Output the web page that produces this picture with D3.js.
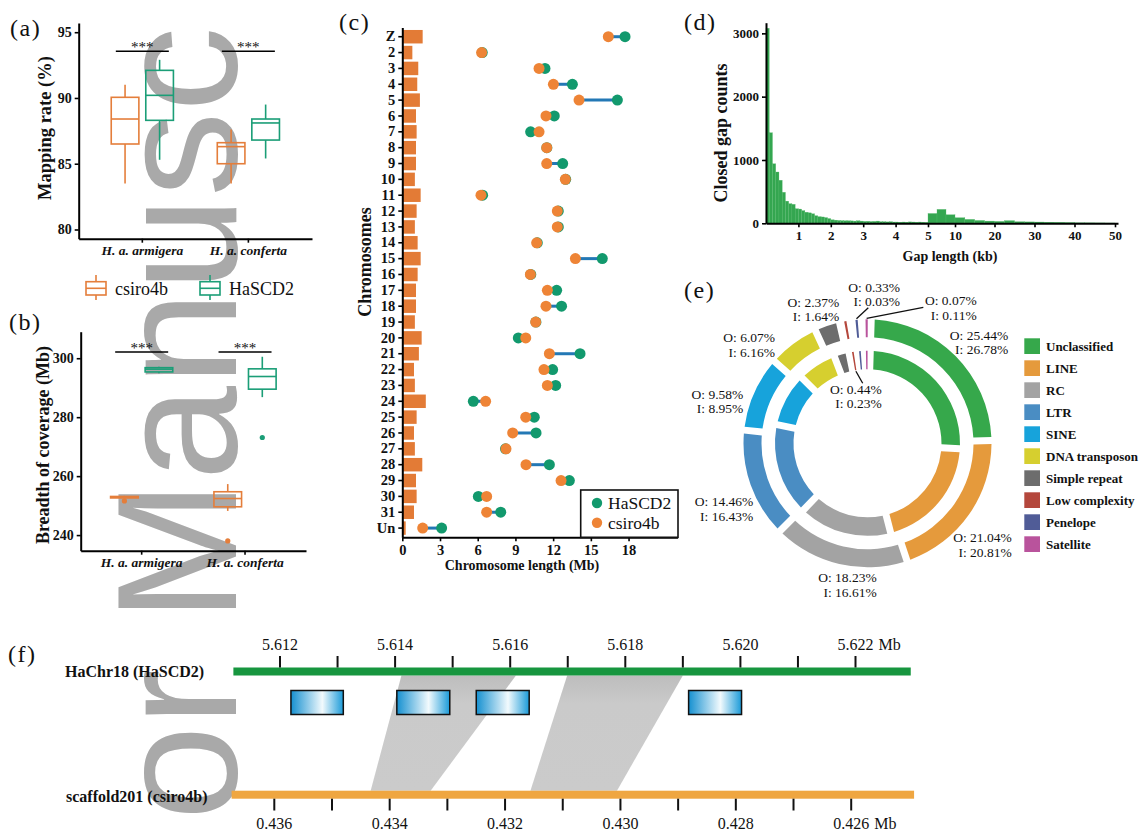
<!DOCTYPE html>
<html><head><meta charset="utf-8">
<script src="https://d3js.org/d3.v7.min.js"></script>
<style>
body{margin:0;background:#fff}
svg{display:block}
text{font-family:"Liberation Serif","Times New Roman",serif;fill:#111}
</style></head><body>
<svg id="fig" width="1139" height="832" viewBox="0 0 1139 832"></svg>
<script>
// ================= DATA =================
const groups = ["H. a. armigera", "H. a. conferta"];
const assemblies = ["csiro4b", "HaSCD2"];
// box stats per group: [lower whisker, Q1, median, Q3, upper whisker]
const mappingCsiro4b = [[83.5, 86.5, 88.4, 90.05, 91.0], [83.5, 85.0, 86.3, 86.6, 87.6]];
const mappingHaSCD2  = [[85.3, 88.3, 90.2, 92.1, 92.9], [85.4, 86.8, 88.1, 88.4, 89.5]];
const mappingTicks = [80, 85, 90, 95];
const mappingSig = 93.55;
const coverageCsiro4b = [[252.4, 252.6, 252.85, 253.1, 253.3], [248.2, 249.6, 252.4, 254.7, 257.3]];
const coverageHaSCD2  = [[294.9, 295.35, 296.3, 296.8, 297.1], [286.8, 289.5, 293.8, 296.4, 300.5]];
const coverageOutCsiro4b = [[251.6], [238.0]];
const coverageOutHaSCD2  = [[], [273.1]];
const coverageTicks = [240, 260, 280, 300];
const coverageSig = 302.1;

const chromosomes = ["Z","2","3","4","5","6","7","8","9","10","11","12","13","14","15","16","17","18","19","20","21","22","23","24","25","26","27","28","29","30","31","Un"];
const chrBarLen  = [1.62,0.8,1.27,1.19,1.4,1.09,1.14,1.09,1.09,1.0,1.46,1.14,1.0,1.22,1.46,1.22,1.09,1.09,1.0,1.54,1.32,0.93,1.0,1.87,1.14,0.93,1.0,1.59,1.09,1.14,0.93,0.27];
const csiro4bLen = [16.39,6.31,10.88,12.02,14.06,11.43,10.88,11.49,11.49,12.97,6.26,12.33,12.33,10.69,13.77,10.19,11.54,11.43,10.61,9.82,11.7,11.27,11.54,6.63,9.82,8.78,8.25,9.84,12.63,6.71,6.71,1.62];
const hascd2Len  = [17.72,6.36,11.35,13.53,17.11,12.09,10.21,11.5,12.76,13.0,6.39,12.41,12.41,10.74,15.91,10.22,12.28,12.67,10.63,9.23,14.14,11.96,12.2,5.65,10.5,10.64,8.21,11.7,13.29,6.05,7.83,3.13];
const chrTicks = [0, 3, 6, 9, 12, 15, 18];

// closed gap histogram: 0-5 kb in 0.1 kb bins, then coarser bins to 50 kb
const gapShortWidth = 0.1;
const gapShortCounts = [3080,1430,940,810,680,490,350,310,300,230,
                        225,200,175,165,150,120,105,100,90,75,
                        55,50,45,42,40,40,38,35,40,35,
                        30,32,28,30,35,25,25,22,25,20,
                        20,18,20,18,22,20,18,20,18,15];
const gapLongEdges = [5,6.667,8.333,10,12.5,15,17.5,20,22.5,25,27.5,30,32.5,35,37.5,40,42.5,45,47.5,50];
const gapLongCounts = [155,220,135,88,62,45,35,30,42,25,22,20,18,16,13,8,7,6,5];
const gapTicks = [1,2,3,4,5,10,20,30,40,50];
const gapCountTicks = [0,1000,2000,3000];

const repeatClasses = ["Unclassified","LINE","RC","LTR","SINE","DNA transposon","Simple repeat","Low complexity","Penelope","Satellite"];
const outerPct = [25.44,21.04,18.23,14.46,9.58,6.07,2.37,0.44,0.33,0.07];
const innerPct = [26.78,20.81,16.61,16.43,8.95,6.16,1.64,0.23,0.03,0.11];

const chr18Ticks = [5.612,5.613,5.614,5.615,5.616,5.617,5.618,5.619,5.620,5.621,5.622];
const chr18Labels = [5.612,5.614,5.616,5.618,5.620,5.622];
const scafTicks = [0.436,0.435,0.434,0.433,0.432,0.431,0.430,0.429,0.428,0.427,0.426];
const scafLabels = [0.436,0.434,0.432,0.430,0.428,0.426];
const chr18Extent = [5.61119, 5.62296];
const scafExtent = [0.43674, 0.42491];
const genes = [[5.61219,5.61310],[5.61403,5.61495],[5.61541,5.61633],[5.61910,5.62002]];
const syntenyTop = [[5.61411,5.61610],[5.61699,5.61900]];
const syntenyBottom = [[0.43433,0.43329],[0.43156,0.43006]];

// ================= STYLE =================
const serif = '"Liberation Serif","Times New Roman",serif';
const colAsm = {csiro4b:"#E47E3B", HaSCD2:"#1B9E77"};
const dotCol = {csiro4b:"#EE8436", HaSCD2:"#12996D"};
const repeatColors = ["#36A84B","#E59A3C","#A3A3A3","#4A8DC3","#17A3DB","#D6CF2F","#6D6D6D","#B4473C","#505C97","#B9539C"];

const svg = d3.select("#fig");
const defs = svg.append("defs");
const grad = defs.append("linearGradient").attr("id","geneGrad").attr("x1","0%").attr("x2","100%").attr("y1","0%").attr("y2","0%");
[[0,"#1590d0"],[0.6,"#f2fafd"],[1,"#1a9ad8"]].forEach(([o,c])=>grad.append("stop").attr("offset",o).attr("stop-color",c));
const bandGrad = defs.append("linearGradient").attr("id","bandGrad").attr("x1","0%").attr("x2","0%").attr("y1","0%").attr("y2","100%");
[[0,"#bdbdbd"],[0.25,"#cacaca"],[1,"#cbcbcb"]].forEach(([o,c])=>bandGrad.append("stop").attr("offset",o).attr("stop-color",c));

// watermark (beneath the chart); only the part visible in the page
const wmStyle = t=>t.style("fill","#a9a9a9").style("font-family","'Liberation Sans',Arial,sans-serif").attr("font-size",170);
svg.append("text").attr("transform","translate(236,622) rotate(-90)").call(wmStyle).text("Manusc");
svg.append("text").attr("transform","translate(236,669) rotate(-90)").attr("text-anchor","end").call(wmStyle).text("or");

function styleAxis(g, fs, italic){
  g.attr("font-family", serif);
  g.select(".domain").attr("stroke","#000").attr("stroke-width",2);
  g.selectAll(".tick line").attr("stroke","#000").attr("stroke-width",1.6);
  g.selectAll(".tick text").attr("font-weight","bold").attr("font-size",fs).attr("fill","#111")
    .attr("font-style", italic ? "italic" : "normal");
}
function panelLabel(t,x,y){
  svg.append("text").attr("x",x).attr("y",y).attr("font-size",24).attr("letter-spacing",1.5).text(t);
}
function yTitle(t,x,y,fs){
  svg.append("text").attr("transform",`translate(${x},${y}) rotate(-90)`).attr("text-anchor","middle")
    .attr("font-weight","bold").attr("font-size",fs).text(t);
}

// ================= BOX PANELS (a),(b) =================
function boxPanel(o){
  const g = svg.append("g");
  const x = d3.scaleBand().domain(groups).range([o.x0,o.x1]).paddingInner(0).paddingOuter(o.po);
  const sub = d3.scaleBand().domain(assemblies).range([-38,38]).padding(0.2);
  const y = d3.scaleLinear().domain(o.ydom).range([o.yb,o.yt]);
  g.append("g").attr("transform",`translate(0,${o.yb})`)
    .call(d3.axisBottom(x).tickSize(4).tickSizeOuter(0).tickPadding(3)).call(styleAxis,13.5,true);
  g.append("g").attr("transform",`translate(${o.x0},0)`)
    .call(d3.axisLeft(y).tickValues(o.ticks).tickSize(4).tickSizeOuter(0).tickPadding(3)).call(styleAxis,14,false);
  const stats = {csiro4b:o.csiro, HaSCD2:o.hascd};
  const outl = {csiro4b:o.outC, HaSCD2:o.outH};
  assemblies.forEach(a=>{
    groups.forEach((gr,gi)=>{
      const s = stats[a][gi];
      const cx = x(gr)+x.bandwidth()/2+sub(a)+sub.bandwidth()/2;
      const bw = sub.bandwidth();
      const c = colAsm[a];
      g.append("line").attr("x1",cx).attr("x2",cx).attr("y1",y(s[0])).attr("y2",y(s[1])).attr("stroke",c).attr("stroke-width",1.6);
      g.append("line").attr("x1",cx).attr("x2",cx).attr("y1",y(s[3])).attr("y2",y(s[4])).attr("stroke",c).attr("stroke-width",1.6);
      g.append("rect").attr("x",cx-bw/2).attr("y",y(s[3])).attr("width",bw).attr("height",Math.max(0.5,y(s[1])-y(s[3])))
        .attr("fill","none").attr("stroke",c).attr("stroke-width",1.6);
      g.append("line").attr("x1",cx-bw/2).attr("x2",cx+bw/2).attr("y1",y(s[2])).attr("y2",y(s[2])).attr("stroke",c).attr("stroke-width",1.6);
      if (outl[a]) outl[a][gi].forEach(v=>{
        g.append("circle").attr("cx",cx).attr("cy",y(v)).attr("r",2.6).attr("fill",c);
      });
    });
  });
  groups.forEach(gr=>{
    const cx = x(gr)+x.bandwidth()/2;
    g.append("line").attr("x1",cx-26.5).attr("x2",cx+26.5).attr("y1",y(o.sig)).attr("y2",y(o.sig)).attr("stroke","#000").attr("stroke-width",1.6);
    g.append("text").attr("x",cx).attr("y",y(o.sig)+0.5).attr("text-anchor","middle").attr("font-size",15).text("***");
  });
}
boxPanel({x0:78.7,x1:312,po:0.1,yb:238.7,yt:23,ydom:[79.3,95.7],ticks:mappingTicks,
  csiro:mappingCsiro4b,hascd:mappingHaSCD2,outC:null,outH:null,sig:mappingSig});
boxPanel({x0:80.7,x1:306,po:0.09,yb:550.7,yt:331.7,ydom:[234.7,309],ticks:coverageTicks,
  csiro:coverageCsiro4b,hascd:coverageHaSCD2,outC:coverageOutCsiro4b,outH:coverageOutHaSCD2,sig:coverageSig});
panelLabel("(a)",10,36);
panelLabel("(b)",9,330);
yTitle("Mapping rate (%)",51,128,18.5);
yTitle("Breadth of coverage (Mb)",49,445,18);

// legend for (a)/(b)
(function(){
  const lg = svg.append("g");
  [["csiro4b",86],["HaSCD2",200]].forEach(([a,x0])=>{
    const c = colAsm[a];
    lg.append("line").attr("x1",x0+10).attr("x2",x0+10).attr("y1",275).attr("y2",300).attr("stroke",c).attr("stroke-width",1.6);
    lg.append("rect").attr("x",x0).attr("y",281.7).attr("width",20).attr("height",13.3).attr("fill","#fff").attr("stroke",c).attr("stroke-width",1.6);
    lg.append("line").attr("x1",x0).attr("x2",x0+20).attr("y1",288.3).attr("y2",288.3).attr("stroke",c).attr("stroke-width",1.6);
    lg.append("text").attr("x",x0+29).attr("y",295).attr("font-size",18).text(a);
  });
})();

// ================= PANEL (c) =================
(function(){
  const g = svg.append("g");
  const x = d3.scaleLinear().domain([0,21.9]).range([402.3,402.3+21.9*12.57]);
  const y = d3.scaleBand().domain(chromosomes).range([27.6,537.2]).paddingInner(0.15).paddingOuter(0.15);
  g.selectAll("rect.bar").data(chromosomes).join("rect").attr("class","bar")
    .attr("x",x(0)).attr("y",d=>y(d)).attr("width",(d,i)=>x(chrBarLen[i])-x(0)).attr("height",y.bandwidth()).attr("fill","#E37B36");
  const cy = d=>y(d)+y.bandwidth()/2;
  g.selectAll("line.seg").data(chromosomes).join("line").attr("class","seg")
    .attr("x1",(d,i)=>x(csiro4bLen[i])).attr("x2",(d,i)=>x(hascd2Len[i])).attr("y1",cy).attr("y2",cy)
    .attr("stroke","#2378B5").attr("stroke-width",3);
  g.selectAll("circle.h").data(chromosomes).join("circle").attr("class","h")
    .attr("cx",(d,i)=>x(hascd2Len[i])).attr("cy",cy).attr("r",5.5).attr("fill",dotCol.HaSCD2);
  g.selectAll("circle.c").data(chromosomes).join("circle").attr("class","c")
    .attr("cx",(d,i)=>x(csiro4bLen[i])).attr("cy",cy).attr("r",5.5).attr("fill",dotCol.csiro4b);
  g.append("g").attr("transform","translate(0,537.3)")
    .call(d3.axisBottom(x).tickValues(chrTicks).tickSize(4).tickSizeOuter(0).tickPadding(3)).call(styleAxis,14.5,false);
  g.append("g").attr("transform","translate(402.3,0)")
    .call(d3.axisLeft(y).tickSize(4).tickSizeOuter(0).tickPadding(3)).call(styleAxis,14.5,false);
  svg.append("text").attr("x",522).attr("y",570).attr("text-anchor","middle").attr("font-weight","bold").attr("font-size",14).text("Chromosome length (Mb)");
  yTitle("Chromosomes",371,262,18);
  // legend
  const lg = svg.append("g");
  lg.append("rect").attr("x",580.7).attr("y",490).attr("width",97.3).attr("height",47.3).attr("fill","#fff").attr("stroke","#111").attr("stroke-width",1.6);
  [["HaSCD2",503],["csiro4b",522.7]].forEach(([a,yy])=>{
    lg.append("circle").attr("cx",597).attr("cy",yy).attr("r",5.2).attr("fill",dotCol[a]);
    lg.append("text").attr("x",608).attr("y",yy+6).attr("font-size",17.5).text(a);
  });
  panelLabel("(c)",339,30);
})();

// ================= PANEL (d) =================
(function(){
  const g = svg.append("g");
  const x = d3.scaleLinear().domain([0,5,10,20,30,40,50,50.75]).range([766,928,955,994.5,1034.5,1074.5,1115,1118]);
  const y = d3.scaleLinear().domain([0,3168]).range([223.3,22.7]);
  const bins = gapShortCounts.map((c,i)=>({a:i*gapShortWidth,b:(i+1)*gapShortWidth,c}))
    .concat(gapLongCounts.map((c,i)=>({a:gapLongEdges[i],b:gapLongEdges[i+1],c})));
  g.selectAll("rect").data(bins).join("rect")
    .attr("x",d=>x(d.a)).attr("width",d=>x(d.b)-x(d.a)).attr("y",d=>y(d.c)).attr("height",d=>y(0)-y(d.c))
    .attr("fill","#34A650").attr("stroke","#55b86a").attr("stroke-width",0.3);
  g.append("g").attr("transform","translate(0,223.3)")
    .call(d3.axisBottom(x).tickValues(gapTicks).tickFormat(d3.format("d")).tickSize(4).tickSizeOuter(0).tickPadding(3)).call(styleAxis,13,false);
  g.append("g").attr("transform","translate(766,0)")
    .call(d3.axisLeft(y).tickValues(gapCountTicks).tickFormat(d3.format("d")).tickSize(4).tickSizeOuter(0).tickPadding(3)).call(styleAxis,13,false);
  svg.append("text").attr("x",950).attr("y",261).attr("text-anchor","middle").attr("font-weight","bold").attr("font-size",14).text("Gap length (kb)");
  yTitle("Closed gap counts",727,133,18);
  panelLabel("(d)",684,30);
})();

// ================= PANEL (e) =================
(function(){
  const cx = 867.5, cy = 443.3;
  const g = svg.append("g").attr("transform",`translate(${cx},${cy})`);
  const pie = d3.pie().sort(null).value(d=>d).padAngle(0.07).startAngle(0.03).endAngle(0.03+2*Math.PI);
  const rings = [{data:pie(outerPct),r0:106,r1:124},{data:pie(innerPct),r0:74,r1:92.5}];
  rings.forEach(rg=>{
    const arc = d3.arc().innerRadius(rg.r0).outerRadius(rg.r1).padRadius(100);
    g.append("g").selectAll("path").data(rg.data).join("path")
      .attr("d",d=>{
        if (d.endAngle-d.startAngle < 0.1){
          const m=(d.startAngle+d.endAngle)/2;
          return arc({startAngle:m-0.009,endAngle:m+0.009,padAngle:0});
        }
        return arc(d);
      })
      .attr("fill",(d,i)=>repeatColors[i]);
  });
  // labels (offsets of right edge / first line from ring centre)
  const labelLayout = [[140.8,-108.3],[144.2,94.4],[9.2,134.7],[-114.2,58.4],[-124.2,-49],[-92.5,-105.6],[-28.2,-141],[14.2,-54],[32.5,-156],[109.2,-142.6]];
  const fmt = d3.format(".2f");
  repeatClasses.forEach((k,i)=>{
    const [dx,dy] = labelLayout[i];
    const t = g.append("text").attr("text-anchor","end").attr("font-size",13.5);
    t.append("tspan").attr("x",dx).attr("y",dy+4.5).text(`O:  ${fmt(outerPct[i])}%`);
    t.append("tspan").attr("x",dx).attr("y",dy+4.5+14.5).text(`I:  ${fmt(innerPct[i])}%`);
  });
  // leader lines for tiny classes
  const polar=(a,r)=>[r*Math.sin(a),-r*Math.cos(a)];
  const od = rings[0].data, idd = rings[1].data;
  const mid = d=>(d.startAngle+d.endAngle)/2;
  const leaders = [[[0.8,-135.5],polar(mid(od[8]),125)],[[55.8,-136],polar(mid(od[9]),125)],[[-4.8,-60],polar(mid(idd[7]),73)]];
  leaders.forEach(([p,q])=>g.append("line").attr("x1",p[0]).attr("y1",p[1]).attr("x2",q[0]).attr("y2",q[1]).attr("stroke","#111").attr("stroke-width",1.3));
  // legend
  const lg = svg.append("g");
  repeatClasses.forEach((k,i)=>{
    lg.append("rect").attr("x",1024.3).attr("y",338.3+i*22).attr("width",15.7).attr("height",15.7).attr("fill",repeatColors[i]);
    lg.append("text").attr("x",1046).attr("y",338.3+i*22+12.5).attr("font-weight","bold").attr("font-size",13).text(k);
  });
  panelLabel("(e)",684,298);
})();

// ================= PANEL (f) =================
(function(){
  const g = svg.append("g");
  const xt = d3.scaleLinear().domain([5.612,5.622]).range([280,855.5]);
  const xb = d3.scaleLinear().domain([0.436,0.426]).range([274.3,851.2]);
  const topY0 = 667.5, topY1 = 675.5, botY0 = 790.7, botY1 = 798.7;
  syntenyTop.forEach((t,i)=>{
    const b = syntenyBottom[i];
    g.append("polygon").attr("points",[[xt(t[0]),topY1],[xt(t[1]),topY1],[xb(b[1]),botY0],[xb(b[0]),botY0]].map(p=>p.join(",")).join(" "))
      .attr("fill","url(#bandGrad)");
  });
  g.append("rect").attr("x",xt(chr18Extent[0])).attr("width",xt(chr18Extent[1])-xt(chr18Extent[0])).attr("y",topY0).attr("height",topY1-topY0).attr("fill","#17963F");
  g.append("rect").attr("x",xb(scafExtent[0])).attr("width",xb(scafExtent[1])-xb(scafExtent[0])).attr("y",botY0).attr("height",botY1-botY0).attr("fill","#EFA641");
  g.selectAll("line.tt").data(chr18Ticks).join("line").attr("class","tt")
    .attr("x1",d=>xt(d)).attr("x2",d=>xt(d)).attr("y1",656).attr("y2",topY0).attr("stroke","#111").attr("stroke-width",2);
  g.selectAll("line.bt").data(scafTicks).join("line").attr("class","bt")
    .attr("x1",d=>xb(d)).attr("x2",d=>xb(d)).attr("y1",botY1).attr("y2",810.5).attr("stroke","#111").attr("stroke-width",2);
  const f3 = d3.format(".3f");
  g.selectAll("text.tl").data(chr18Labels).join("text").attr("class","tl")
    .attr("x",d=>xt(d)).attr("y",650).attr("text-anchor","middle").attr("font-size",16).text(f3);
  g.selectAll("text.bl").data(scafLabels).join("text").attr("class","bl")
    .attr("x",d=>xb(d)).attr("y",829).attr("text-anchor","middle").attr("font-size",16).text(f3);
  g.append("text").attr("x",xt(5.622)+23).attr("y",650).attr("font-size",16).text("Mb");
  g.append("text").attr("x",xb(0.426)+23).attr("y",829).attr("font-size",16).text("Mb");
  g.selectAll("rect.gene").data(genes).join("rect").attr("class","gene")
    .attr("x",d=>xt(d[0])).attr("width",d=>xt(d[1])-xt(d[0])).attr("y",690.5).attr("height",24)
    .attr("fill","url(#geneGrad)").attr("stroke","#111").attr("stroke-width",1.5);
  g.append("text").attr("x",65).attr("y",677).attr("font-weight","bold").attr("font-size",16).text("HaChr18 (HaSCD2)");
  g.append("text").attr("x",66).attr("y",802).attr("font-weight","bold").attr("font-size",16).text("scaffold201 (csiro4b)");
  panelLabel("(f)",8,662);
})();
</script></body></html>
